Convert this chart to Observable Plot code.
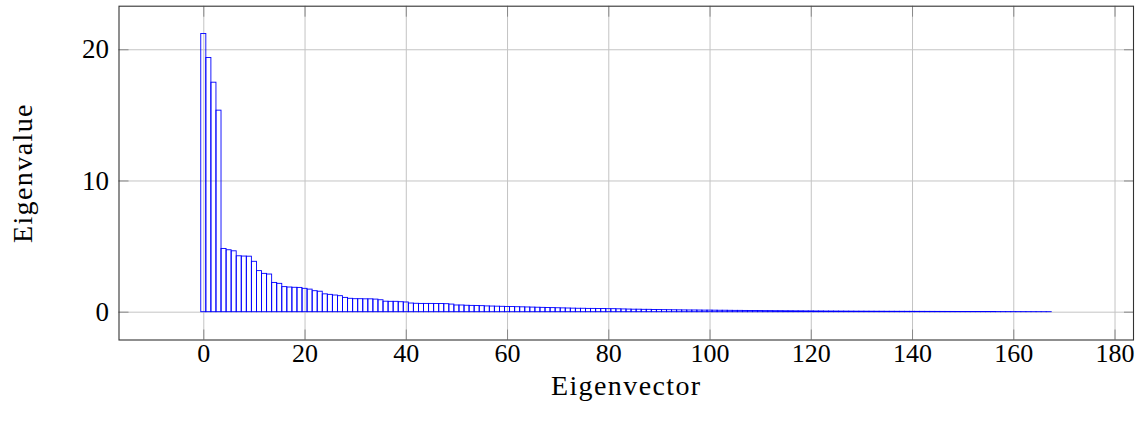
<!DOCTYPE html>
<html>
<head>
<meta charset="utf-8">
<script src="https://cdn.jsdelivr.net/npm/d3@7"></script>
<script src="https://cdn.jsdelivr.net/npm/@observablehq/plot@0.6"></script>
<style>
  html, body { margin: 0; padding: 0; background: #fff; }
  #chart svg { display: block; }
</style>
</head>
<body>
<div id="chart"></div>
<script>
const eigenvalues = [
  21.2, 19.37, 17.49, 15.36, 4.82, 4.72, 4.64, 4.26, 4.24, 4.23,
  3.84, 3.13, 2.92, 2.87, 2.23, 2.16, 1.91, 1.88, 1.86, 1.85,
  1.78, 1.72, 1.60, 1.56, 1.36, 1.32, 1.27, 1.22, 1.09, 1.02,
  0.99, 0.99, 0.98, 0.98, 0.96, 0.91, 0.80, 0.79, 0.79, 0.76,
  0.74, 0.66, 0.64, 0.63, 0.63, 0.63, 0.62, 0.62, 0.61, 0.58,
  0.51, 0.51, 0.49, 0.48, 0.47, 0.46, 0.44, 0.43, 0.42, 0.41,
  0.40, 0.39, 0.38, 0.37, 0.36, 0.35, 0.34, 0.33, 0.32, 0.31,
  0.30, 0.29, 0.28, 0.27, 0.26, 0.26, 0.25, 0.25, 0.24, 0.24,
  0.23, 0.23, 0.22, 0.21, 0.20, 0.19, 0.19, 0.18, 0.18, 0.17,
  0.16, 0.155, 0.15, 0.145, 0.14, 0.135, 0.13, 0.13, 0.125, 0.12,
  0.12, 0.115, 0.11, 0.11, 0.105, 0.10, 0.10, 0.095, 0.09, 0.09,
  0.085, 0.08, 0.08, 0.075, 0.075, 0.07, 0.07, 0.065, 0.065, 0.06,
  0.06, 0.055, 0.055, 0.05, 0.05, 0.048, 0.046, 0.044, 0.042, 0.04,
  0.039, 0.038, 0.036, 0.035, 0.034, 0.032, 0.031, 0.03, 0.029, 0.028,
  0.027, 0.026, 0.025, 0.024, 0.023, 0.022, 0.021, 0.02, 0.019, 0.018,
  0.017, 0.016, 0.015, 0.014, 0.013, 0.012, 0.011, 0.010, 0.009, 0.008,
  0.007, 0.006, 0.005, 0.004, 0.003, 0.002, 0.001, 0.001
];
const xTicks = [0, 20, 40, 60, 80, 100, 120, 140, 160, 180];
const yTicks = [0, 10, 20];
const xLabel = "Eigenvector";
const yLabel = "Eigenvalue";

const table = eigenvalues.map((v, i) => ({i, v}));

const font = "'Liberation Serif', 'Times New Roman', serif";
const gridColor = "#c4c4c4";
const tickColor = "#8a8a8a";

const chart = Plot.plot({
  width: 1147,
  height: 421,
  marginLeft: 118.5,
  marginRight: 14,
  marginTop: 5.7,
  marginBottom: 81.5,
  style: {fontFamily: font, fontSize: "27px", color: "#000", background: "#fff"},
  x: {domain: [-16.75, 183.65], ticks: xTicks},
  y: {domain: [-2.12, 23.32], ticks: yTicks},
  marks: [
    Plot.gridX(xTicks, {stroke: gridColor, strokeOpacity: 1, strokeWidth: 1}),
    Plot.gridY(yTicks, {stroke: gridColor, strokeOpacity: 1, strokeWidth: 1}),
    Plot.rect(table, {
      x1: d => d.i - 0.5,
      x2: d => d.i + 0.5,
      y1: 0,
      y2: "v",
      fill: "none",
      stroke: "#0000ff",
      strokeWidth: 0.9
    }),
    Plot.axisX(xTicks, {anchor: "bottom", tickSize: -10, text: null, stroke: tickColor, label: null}),
    Plot.axisX(xTicks, {anchor: "top", tickSize: -10, text: null, stroke: tickColor, label: null}),
    Plot.axisY(yTicks, {anchor: "left", tickSize: -10, text: null, stroke: tickColor, label: null}),
    Plot.axisY(yTicks, {anchor: "right", tickSize: -10, text: null, stroke: tickColor, label: null}),
    Plot.axisX(xTicks, {anchor: "bottom", tickSize: 0, tickPadding: 4, fontSize: 26, label: null, fill: "#000"}),
    Plot.axisY(yTicks, {anchor: "left", tickSize: 0, tickPadding: 10, fontSize: 27, label: null, fill: "#000"}),
    Plot.text([xLabel], {frameAnchor: "bottom", dy: 46, textAnchor: "middle", lineAnchor: "middle", fontSize: 28, fill: "#000"}),
    Plot.text([yLabel], {frameAnchor: "left", dx: -96, rotate: -90, textAnchor: "middle", lineAnchor: "middle", fontSize: 28, fill: "#000"}),
    Plot.frame({stroke: "#333", strokeWidth: 1.1})
  ]
});
d3.select(chart).selectAll("text").filter(function () {
  const t = this.textContent;
  return t === xLabel || t === yLabel;
}).attr("letter-spacing", "1.4px");
document.getElementById("chart").appendChild(chart);
</script>
</body>
</html>
